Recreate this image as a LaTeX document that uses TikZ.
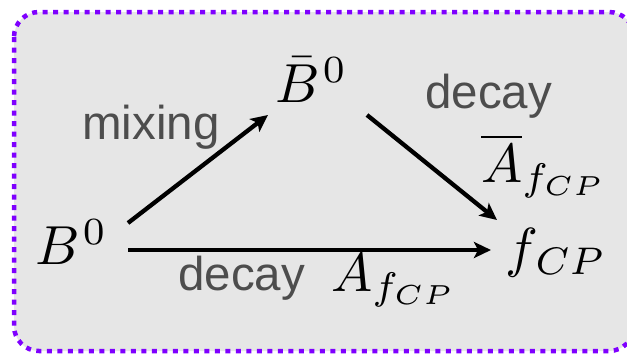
\RequirePackage{fix-cm}
\documentclass[tikz,border=0pt]{standalone}
\usepackage{fontspec}
\usepackage{graphicx}
\newfontfamily\labfont{Liberation Sans}
\usetikzlibrary{arrows.meta}
\definecolor{bgray}{HTML}{E6E6E6}
\definecolor{bpurple}{HTML}{7F00FF}
\definecolor{tgray}{HTML}{4D4D4D}
\newcommand{\scaledmath}[1]{\scalebox{5.5}{$#1$}}
\tikzset{
  mathlbl/.style={anchor=base west,inner sep=0pt},
  wordlbl/.style={anchor=base west,inner sep=0pt,text=tgray,font=\labfont\fontsize{47.5}{52}\selectfont},
  arr/.style={line width=4.3pt,-{Stealth[length=17pt,width=16pt,inset=4pt]}},
}
\begin{document}
\begin{tikzpicture}[x=1pt,y=-1pt]
\useasboundingbox (0,0) rectangle (627,354);
\begin{scope}
\clip (0,0) rectangle (627,354);
\draw[fill=bgray,draw=bpurple,line width=4.5pt,dash pattern=on 5pt off 5.5pt,rounded corners=25pt] (14,12) rectangle (634,351);
\end{scope}
\node[mathlbl] (b0) at (35,264) {\scaledmath{B^{\kern0.6pt 0}}};
\node[mathlbl] (bb0) at (275,102) {\scaledmath{\bar{B}^{\kern0.6pt 0}}};
\node[mathlbl] (fcp) at (505,266) {\scaledmath{f_{\kern0.6pt CP}}};
\node[wordlbl] (mix) at (82,139) {mixing};
\node[wordlbl] (dtop) at (425,108) {decay};
\node[wordlbl] (dbot) at (178,290) {decay};
\node[mathlbl] (abar) at (481,182) {\scaledmath{\overline{A}_{f_{CP}}}};
\node[mathlbl] (afcp) at (331,291) {\scaledmath{A_{f_{CP}}}};
\coordinate (s1) at (128,223);
\coordinate (e1) at (268,115);
\coordinate (s2) at (367,115);
\coordinate (e2) at (497,220);
\coordinate (s3) at (128,250);
\coordinate (e3) at (491,250);
\draw[arr] (s1) -- (e1);
\draw[arr] (s2) -- (e2);
\draw[arr] (s3) -- (e3);
\end{tikzpicture}
\end{document}
